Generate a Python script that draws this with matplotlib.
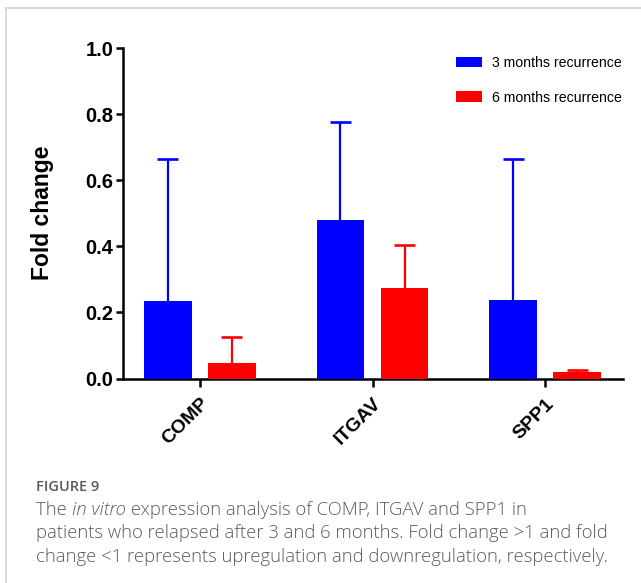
import matplotlib
matplotlib.use("Agg")
import numpy as np
from matplotlib import pyplot as plt
from matplotlib.lines import Line2D
from matplotlib.patches import Patch
from matplotlib.transforms import ScaledTranslation

# Values
genes = ["COMP", "ITGAV", "SPP1"]
series_names = ["3 months recurrence", "6 months recurrence"]
fold_3m = [0.236, 0.480, 0.238]
err_3m = [0.428, 0.295, 0.426]
fold_6m = [0.046, 0.273, 0.019]
err_6m = [0.081, 0.130, 0.006]
yticks = [0.0, 0.2, 0.4, 0.6, 0.8, 1.0]

colors = ["#0000ff", "#ff0000"]

plt.rcParams["font.family"] = ["Liberation Sans", "DejaVu Sans"]

fig = plt.figure(figsize=(6.41, 5.83), dpi=100)
W, H = 641, 583

# light grey frame of the figure panel
fig.add_artist(Line2D([6 / W, 6 / W], [0, 1 - 8 / H], color="#d4d4d4", lw=1.2))
fig.add_artist(Line2D([6 / W, 1], [1 - 8 / H, 1 - 8 / H], color="#d4d4d4", lw=1.2))

ax = fig.add_axes([123 / W, 1 - 378.5 / H, (622.7 - 123) / W, (378.5 - 48) / H])

x = np.arange(len(genes))
width = 0.278
offset = 0.1855
cap = 0.061

for vals, errs, col, sign in [(fold_3m, err_3m, colors[0], -1), (fold_6m, err_6m, colors[1], 1)]:
    xs = x + sign * offset
    tops = np.array(vals) + np.array(errs)
    ax.vlines(xs, vals, tops, color=col, lw=1.6, zorder=2)
    ax.hlines(tops, xs - cap, xs + cap, color=col, lw=1.9, zorder=2)
    ax.bar(xs, vals, width=width, color=col, edgecolor="none", zorder=3)

ax.set_xlim(-0.446, 2.45)
ax.set_ylim(0, 1.0)
ax.set_yticks(yticks)
ax.set_yticklabels([f"{v:.1f}" for v in yticks], fontsize=14.5, fontweight="bold")
ax.set_xticks(x)
ax.set_xticklabels(genes, fontsize=14, fontweight="bold", rotation=45,
                   ha="right", va="top", rotation_mode="anchor")
shift = ScaledTranslation(-4 / 100, 0, fig.dpi_scale_trans)
for lab in ax.get_xticklabels():
    lab.set_transform(lab.get_transform() + shift)

for s in ["top", "right"]:
    ax.spines[s].set_visible(False)
for s in ["left", "bottom"]:
    ax.spines[s].set_linewidth(1.8)
ax.tick_params(axis="both", width=1.8, length=5, pad=2)
ax.tick_params(axis="x", length=6, pad=6)

fig.text(42 / W, 1 - 213 / H, "Fold change", rotation=90, fontsize=16.5,
         fontweight="bold", ha="center", va="center")

handles = [Patch(facecolor=c, edgecolor="none") for c in colors]
fig.legend(handles, series_names, loc="upper left",
           bbox_to_anchor=(456 / W, 1 - 56 / H), frameon=False, fontsize=10.2,
           borderpad=0, borderaxespad=0, handlelength=1.8, handleheight=0.8,
           handletextpad=0.75, labelspacing=1.45)

# caption
cap_color = "#5a5a5a"
cap_font = ["Open Sans", "DejaVu Sans"]
cap_size = 13.35
fig.text(36 / W, 1 - 487 / H, "FIGURE 9", fontsize=10.5, color=cap_color,
         family=cap_font, fontweight="semibold", va="center")

renderer = fig.canvas.get_renderer()
line_y = [510, 533.5, 557]
first = [("The ", "normal"), ("in vitro", "italic"),
         (" expression analysis of COMP, ITGAV and SPP1 in", "normal")]
xpos = 36
for piece, style in first:
    t = fig.text(xpos / W, 1 - line_y[0] / H, piece, fontsize=cap_size, color=cap_color,
                 family=cap_font, style=style, fontweight="light", va="center")
    xpos = t.get_window_extent(renderer).x1
rest = [
    "patients who relapsed after 3 and 6 months. Fold change >1 and fold",
    "change <1 represents upregulation and downregulation, respectively.",
]
for yy, ln in zip(line_y[1:], rest):
    fig.text(36 / W, 1 - yy / H, ln, fontsize=cap_size, color=cap_color,
             family=cap_font, fontweight="light", va="center")

fig.savefig("out.png", dpi=100)
